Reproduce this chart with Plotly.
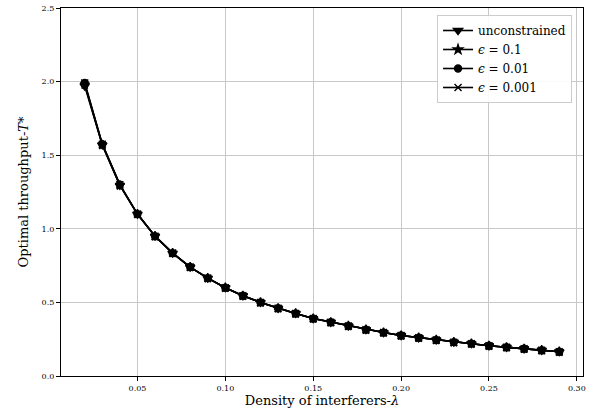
import plotly.graph_objects as go

density = [0.02, 0.03, 0.04, 0.05, 0.06, 0.07, 0.08, 0.09, 0.10, 0.11, 0.12, 0.13, 0.14, 0.15,
           0.16, 0.17, 0.18, 0.19, 0.20, 0.21, 0.22, 0.23, 0.24, 0.25, 0.26, 0.27, 0.28, 0.29]

t_unconstrained = [1.97, 1.57, 1.295, 1.10, 0.95, 0.835, 0.74, 0.665, 0.60, 0.545, 0.50, 0.46, 0.425,
                   0.39, 0.365, 0.34, 0.315, 0.295, 0.275, 0.26, 0.245, 0.23, 0.22, 0.205, 0.195,
                   0.185, 0.175, 0.165]
t_eps_01 = [1.98, 1.57, 1.295, 1.10, 0.95, 0.835, 0.74, 0.665, 0.60, 0.545, 0.50, 0.46, 0.425,
            0.39, 0.365, 0.34, 0.315, 0.295, 0.275, 0.26, 0.245, 0.23, 0.22, 0.205, 0.195,
            0.185, 0.175, 0.165]
t_eps_001 = [1.99, 1.575, 1.30, 1.10, 0.95, 0.835, 0.74, 0.665, 0.60, 0.545, 0.50, 0.46, 0.425,
             0.39, 0.365, 0.34, 0.315, 0.295, 0.275, 0.26, 0.245, 0.23, 0.22, 0.205, 0.195,
             0.185, 0.175, 0.165]
t_eps_0001 = [1.99, 1.575, 1.30, 1.10, 0.95, 0.835, 0.74, 0.665, 0.60, 0.545, 0.50, 0.46, 0.425,
              0.39, 0.365, 0.34, 0.315, 0.295, 0.275, 0.26, 0.245, 0.23, 0.22, 0.205, 0.195,
              0.185, 0.175, 0.165]

series_names = ["unconstrained", "<i>ϵ</i> = 0.1", "<i>ϵ</i> = 0.01", "<i>ϵ</i> = 0.001"]
series_values = [t_unconstrained, t_eps_01, t_eps_001, t_eps_0001]
symbols = ["triangle-down", "star", "circle", "x-thin-open"]
sizes = [8, 7, 7, 7]

FONT = "DejaVu Serif"

fig = go.Figure()
for name, vals, sym, sz in zip(series_names, series_values, symbols, sizes):
    fig.add_trace(go.Scatter(
        x=density, y=vals, name=name, mode="lines+markers",
        line=dict(color="black", width=1.6),
        marker=dict(symbol=sym, size=sz, color="black",
                    line=dict(color="black", width=1.4)),
    ))

axis_common = dict(
    showline=True, linecolor="black", linewidth=1.2, mirror=True,
    ticks="outside", ticklen=4, tickwidth=1, tickcolor="black",
    showgrid=True, gridcolor="#c8c8c8", gridwidth=1, zeroline=False,
    tickfont=dict(family=FONT, size=8, color="black"),
    automargin=False,
)

fig.update_layout(
    width=597, height=419,
    margin=dict(l=61, r=14, t=8, b=43),
    paper_bgcolor="white", plot_bgcolor="white",
    font=dict(family=FONT, color="black"),
    showlegend=True,
    legend=dict(
        x=0.979, y=0.981, xanchor="right", yanchor="top",
        bgcolor="rgba(255,255,255,0.9)", bordercolor="#cccccc", borderwidth=1,
        font=dict(family=FONT, size=12, color="black"),
        tracegroupgap=0, itemwidth=30,
    ),
    xaxis=dict(axis_common, range=[0.0065, 0.3035], tickmode="linear", tick0=0.05, dtick=0.05,
               tickformat=".2f",
               title=dict(text="Density of interferers-<i>λ</i>", font=dict(family=FONT, size=13), standoff=4)),
    yaxis=dict(axis_common, range=[0, 2.5], tickmode="linear", tick0=0, dtick=0.5,
               tickformat=".1f",
               title=dict(text="Optimal throughput-<i>T</i>*", font=dict(family=FONT, size=13), standoff=10)),
)

fig.write_html("out.html", config={"displayModeBar": False},
               post_script="document.body.style.margin='0';")
